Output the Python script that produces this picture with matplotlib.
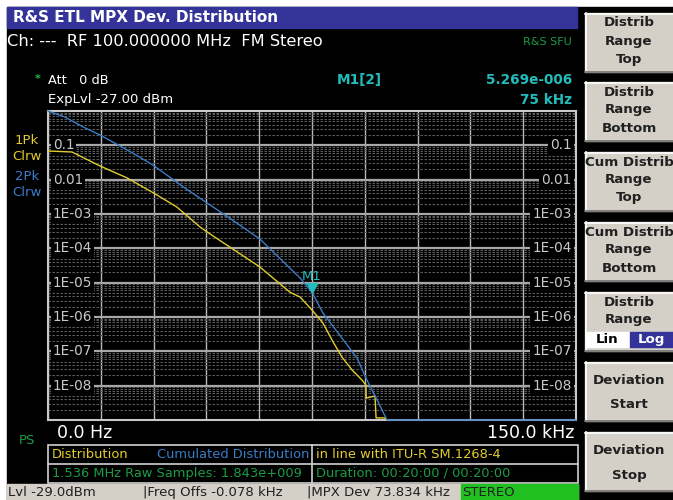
import numpy as np
import matplotlib
matplotlib.use("Agg")
from matplotlib import pyplot as plt
from matplotlib.patches import Rectangle
from matplotlib.ticker import LogLocator, NullFormatter
from matplotlib.transforms import blended_transform_factory

# Trace data (deviation in kHz, probability)
dist_khz = [0, 6.8, 14.8, 22.5, 30.0, 36.6, 43.2, 45.2, 60.2, 68.8, 71.6, 75.0, 78.1,
            81.0, 83.5, 86.4, 89.2, 90.3, 90.4, 92.9, 93.2, 95.7, 96.0]
dist_prob = [0.0684, 0.064, 0.025, 0.0112, 4.09e-3, 1.6e-3, 4.18e-4, 2.99e-4, 2.86e-5,
             5.2e-6, 3.82e-6, 1.6e-6, 6.68e-7, 1.87e-7, 6.83e-8, 2.85e-8, 1.46e-8,
             1.05e-8, 4.37e-9, 5.0e-9, 1.15e-9, 1.15e-9, 1e-9]

cum_khz = [0, 4.8, 10.0, 14.8, 24.0, 29.8, 38.9, 45.2, 52.0, 60.2, 71.6, 75.0, 78.1,
           83.5, 87.8, 90.6, 93.5, 96.3, 150.0]
cum_prob = [1.0, 0.668, 0.342, 0.20, 0.060, 0.0267, 5.7e-3, 2.09e-3, 7.1e-4, 1.87e-4,
            1.37e-5, 5.269e-6, 1.31e-6, 2.44e-7, 6.38e-8, 1.46e-8, 3.82e-9, 1e-9, 1e-9]

decades = [1e-1, 1e-2, 1e-3, 1e-4, 1e-5, 1e-6, 1e-7, 1e-8]
decade_labels = ["0.1", "0.01", "1E-03", "1E-04", "1E-05", "1E-06", "1E-07", "1E-08"]

marker_khz = 75.0
marker_val = 5.269e-6

YEL = '#e2cd2c'
BLU = '#3a7cc6'
GRN = '#1a9c46'
CYN = '#22bcbc'
BTN = '#d4d0c8'
NAVY = '#333399'

fig = plt.figure(figsize=(6.73, 5.00), dpi=100, facecolor='white')

# pixel-coordinate canvas for the screen furniture
bg = fig.add_axes([0, 0, 1, 1])
bg.set_xlim(0, 673)
bg.set_ylim(500, 0)
bg.axis('off')

bg.add_patch(Rectangle((7, 7), 666, 493, color='black'))
bg.add_patch(Rectangle((7, 7), 570, 21, color=NAVY))
bg.text(13, 18, "R&S ETL MPX Dev. Distribution", color='white', fontsize=11,
        va='center', ha='left', fontweight='bold')
bg.text(7, 42, "Ch: ---  RF 100.000000 MHz  FM Stereo", color='white', fontsize=11.7,
        va='center')
bg.text(572, 42, "R&S SFU", color=GRN, fontsize=8, va='center', ha='right')
bg.text(38, 79, "*", color='#22c040', fontsize=8, va='center', ha='center', fontweight='bold')
bg.text(48, 80, "Att   0 dB", color='white', fontsize=9.3, va='center')
bg.text(48, 100, "ExpLvl -27.00 dBm", color='white', fontsize=9.5, va='center')
bg.text(337, 80, "M1[2]", color=CYN, fontsize=9.8, va='center', fontweight='bold')
bg.text(572, 80, "5.269e-006", color=CYN, fontsize=9.8, va='center', ha='right',
        fontweight='bold')
bg.text(572, 100, "75 kHz", color=CYN, fontsize=9.8, va='center', ha='right',
        fontweight='bold')

for txt, yy, col in [("1Pk", 140, YEL), ("Clrw", 157, YEL), ("2Pk", 176, BLU), ("Clrw", 193, BLU)]:
    bg.text(27, yy, txt, color=col, fontsize=9.5, va='center', ha='center')

bg.text(57, 433, "0.0 Hz", color='white', fontsize=12.5, va='center')
bg.text(574, 433, "150.0 kHz", color='white', fontsize=12.5, va='center', ha='right')
bg.text(27, 440, "PS", color=GRN, fontsize=9.5, va='center', ha='center')

# info table under the graph
lc = '#d0d0d0'
bg.add_patch(Rectangle((48, 445), 530, 38, fill=False, ec=lc, lw=1.2))
bg.plot([48, 578], [464, 464], color=lc, lw=1.2)
bg.plot([312, 312], [445, 483], color=lc, lw=1.2)
bg.text(52, 454, "Distribution", color=YEL, fontsize=9.4, va='center')
bg.text(309, 454, "Cumulated Distribution", color=BLU, fontsize=9.4, va='center', ha='right')
bg.text(316, 454, "in line with ITU-R SM.1268-4", color=YEL, fontsize=9.4, va='center')
bg.text(52, 473, "1.536 MHz Raw Samples: 1.843e+009", color=GRN, fontsize=9.4, va='center')
bg.text(316, 473, "Duration: 00:20:00 / 00:20:00", color=GRN, fontsize=9.4, va='center')

# status bar
bg.add_patch(Rectangle((7, 484), 571, 16, color=BTN))
bg.add_patch(Rectangle((461, 484), 117, 16, color='#20c020'))
for txt, xx in [("Lvl -29.0dBm", 8), ("|Freq Offs -0.078 kHz", 143),
                ("|MPX Dev 73.834 kHz", 307), ("STEREO", 462)]:
    bg.text(xx, 492.5, txt, color='#202020', fontsize=9.5, va='center')


# softkeys on the right
def button(y0, lines, ys):
    bg.add_patch(Rectangle((585, y0), 90, 59, color=BTN))
    bg.plot([585, 673], [y0 + 0.5, y0 + 0.5], color='white', lw=1.2)
    bg.plot([585.5, 585.5], [y0, y0 + 59], color='white', lw=1.2)
    bg.plot([585, 673], [y0 + 58.5, y0 + 58.5], color='#707070', lw=1.2)
    for t, yy in zip(lines, ys):
        bg.text(629, y0 + yy, t, color='#202020', fontsize=9.6, fontweight='bold',
                ha='center', va='center')


button(13, ["Distrib", "Range", "Top"], [10, 28, 46])
button(82, ["Distrib", "Range", "Bottom"], [10, 28, 46])
button(152, ["Cum Distrib", "Range", "Top"], [10, 28, 46])
button(222, ["Cum Distrib", "Range", "Bottom"], [10, 28, 46])
button(292, ["Distrib", "Range"], [10, 28])
bg.add_patch(Rectangle((586, 332), 43, 15, color='white'))
bg.add_patch(Rectangle((630, 332), 43, 15, color=NAVY))
bg.text(607, 339.5, "Lin", color='black', fontsize=9.6, fontweight='bold', ha='center', va='center')
bg.text(651, 339.5, "Log", color='white', fontsize=9.6, fontweight='bold', ha='center', va='center')
button(362, ["Deviation", "Start"], [18, 43])
button(432, ["Deviation", "Stop"], [18, 43])

# the graph itself
ax = fig.add_axes([48 / 673, 80 / 500, 528 / 673, 309 / 500])
ax.set_facecolor('black')
ax.set_yscale('log')
ax.set_xlim(0, 150)
ax.set_ylim(1e-9, 1)
ax.set_xticks(np.arange(0, 151, 15))
ax.set_yticks(decades)
ax.yaxis.set_minor_locator(LogLocator(base=10, subs=np.arange(2, 10), numticks=20))
ax.yaxis.set_minor_formatter(NullFormatter())
ax.tick_params(which='both', length=0, labelbottom=False, labelleft=False)
ax.grid(axis='x', color='#b8b8b8', lw=1.0)
ax.grid(axis='y', which='major', color='#a8a8a8', lw=1.6)
ax.grid(axis='y', which='minor', color='#5c5c5c', lw=0.8, ls=(0, (2.2, 1.4)))
for sp in ax.spines.values():
    sp.set_color('#c8c8c8')
    sp.set_linewidth(1.5)

tr = blended_transform_factory(ax.transAxes, ax.transData)
for v, lab in zip(decades, decade_labels):
    box = dict(facecolor='black', edgecolor='none', pad=1.5)
    ax.text(0.009, v, lab, transform=tr, color='#c8c8c8', fontsize=9.8,
            ha='left', va='center', bbox=box, zorder=3)
    ax.text(0.992, v, lab, transform=tr, color='#c8c8c8', fontsize=9.8,
            ha='right', va='center', bbox=box, zorder=3)

ax.plot(dist_khz, dist_prob, color=YEL, lw=1.0, zorder=4)
ax.plot(cum_khz, cum_prob, color=BLU, lw=1.0, zorder=5, clip_on=False)

ax.plot([marker_khz], [marker_val * 1.35], marker='v', color=CYN, markersize=7, zorder=6,
        ls='none')
ax.text(marker_khz, marker_val * 1.9, "M1", color=CYN, fontsize=9.5, ha='center',
        va='bottom', zorder=6)

fig.savefig("out.png", dpi=100, facecolor='white')
